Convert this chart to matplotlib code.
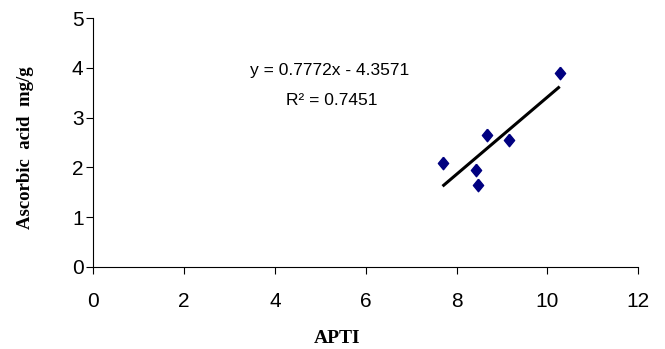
import matplotlib
matplotlib.use("Agg")
import matplotlib.pyplot as plt
import numpy as np

# APTI vs ascorbic acid
apti = [7.69, 8.42, 8.48, 8.66, 9.16, 10.27]
ascorbic = [2.08, 1.95, 1.65, 2.66, 2.56, 3.89]
slope = 0.7772
intercept = -4.3571
r2 = 0.7451
x_ticks = [0, 2, 4, 6, 8, 10, 12]
y_ticks = [0, 1, 2, 3, 4, 5]


def main():
    fig = plt.figure(figsize=(6.65, 3.49), dpi=100)
    ax = fig.add_axes([0.1403, 0.2358, 0.8195, 0.7118])

    diamond = [(0, 1), (0.82, 0), (0, -1), (-0.82, 0), (0, 1)]
    ax.plot(apti, ascorbic, linestyle='none', marker=diamond, markersize=9,
            color='#000080', zorder=3)

    x_fit = np.array([min(apti), max(apti)])
    ax.plot(x_fit, slope * x_fit + intercept, color='black', linewidth=2.2,
            solid_capstyle='butt', zorder=2)

    eq_font = dict(family='Liberation Sans', fontsize=12.5, ha='center', va='center')
    ax.text(5.21, 3.94, 'y = %.4fx - %.4f' % (slope, -intercept), **eq_font)
    ax.text(5.26, 3.35, 'R\u00b2 = %.4f' % r2, **eq_font)

    ax.set_xlim(0, 12)
    ax.set_ylim(0, 5)
    ax.set_xticks(x_ticks)
    ax.set_yticks(y_ticks)
    for sp in ['top', 'right']:
        ax.spines[sp].set_visible(False)
    for sp in ['left', 'bottom']:
        ax.spines[sp].set_color('black')
        ax.spines[sp].set_linewidth(0.8)
    ax.tick_params(axis='x', length=5, width=0.8, pad=13, labelsize=15)
    ax.tick_params(axis='y', length=5, width=0.8, pad=2, labelsize=15)
    for lab in ax.get_xticklabels() + ax.get_yticklabels():
        lab.set_family('Liberation Sans')

    ax.set_xlabel('APTI', family='Liberation Serif', fontweight='bold',
                  fontsize=14, va='center')
    ax.xaxis.set_label_coords(0.4466, -0.287)
    ax.set_ylabel('Ascorbic  acid  mg/g', family='Liberation Serif',
                  fontweight='bold', fontsize=13.5, va='center')
    ax.yaxis.set_label_coords(-0.1235, 0.478)

    fig.savefig('out.png', dpi=100)


if '__main__' == __name__:
    main()
